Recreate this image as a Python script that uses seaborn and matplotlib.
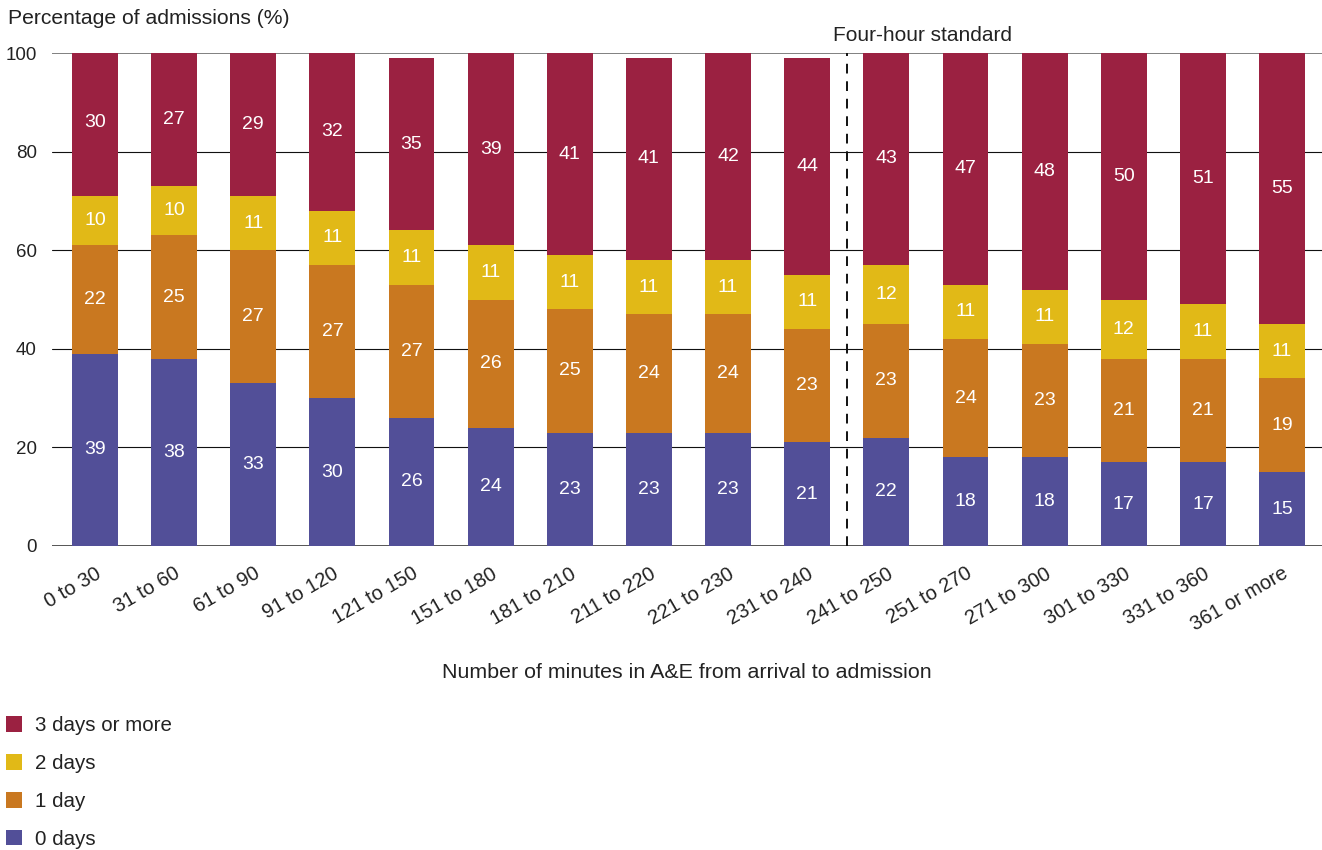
import matplotlib
matplotlib.use("Agg")
import matplotlib.pyplot as plt
from matplotlib.patches import Patch
import numpy as np
import pandas as pd
import seaborn as sns

# Minutes spent in A&E from arrival to admission
categories = ["0 to 30", "31 to 60", "61 to 90", "91 to 120", "121 to 150",
              "151 to 180", "181 to 210", "211 to 220", "221 to 230", "231 to 240",
              "241 to 250", "251 to 270", "271 to 300", "301 to 330", "331 to 360",
              "361 or more"]

# Length of stay shares (% of admissions)
days_0 = [39, 38, 33, 30, 26, 24, 23, 23, 23, 21, 22, 18, 18, 17, 17, 15]
days_1 = [22, 25, 27, 27, 27, 26, 25, 24, 24, 23, 23, 24, 23, 21, 21, 19]
days_2 = [10, 10, 11, 11, 11, 11, 11, 11, 11, 11, 12, 11, 11, 12, 11, 11]
days_3plus = [30, 27, 29, 32, 35, 39, 41, 41, 42, 44, 43, 47, 48, 50, 51, 55]

series_names = ["0 days", "1 day", "2 days", "3 days or more"]
series_values = [days_0, days_1, days_2, days_3plus]
series_colors = ["#524F98", "#C97820", "#E1B917", "#9B2141"]

y_ticks = [0, 20, 40, 60, 80, 100]
standard_label = "Four-hour standard"
x_title = "Number of minutes in A&E from arrival to admission"
y_title = "Percentage of admissions (%)"

sns.set_theme(style="white")
plt.rcParams["font.family"] = ["Liberation Sans", "DejaVu Sans"]
text_color = "#222222"

fig = plt.figure(figsize=(13.22, 8.5), dpi=100)
ax = fig.add_axes([52 / 1322, 1 - 546 / 850, 1 - 52 / 1322, (546 - 53) / 850])

# Horizontal reference lines behind the bars
for t in y_ticks:
    if t == 100:
        ax.axhline(t, color="#808080", lw=1.4, zorder=0)
    elif t == 0:
        ax.axhline(t, color="#555555", lw=1.4, zorder=0)
    else:
        ax.axhline(t, color="#111111", lw=0.8, zorder=0)

data = pd.DataFrame({name: vals for name, vals in zip(series_names, series_values)})
data["category"] = categories
cumulative = data[series_names].cumsum(axis=1)

# Stack by layering cumulative totals, tallest first
for name, color in reversed(list(zip(series_names, series_colors))):
    sns.barplot(x=categories, y=cumulative[name].values, color=color,
                width=0.58, saturation=1, ax=ax, zorder=2, order=categories,
                linewidth=0, edgecolor="none")

# Segment value labels
bottoms = np.zeros(len(categories))
for name in series_names:
    vals = np.array(data[name].values, dtype=float)
    for i, (b, v) in enumerate(zip(bottoms, vals)):
        ax.text(i, b + v / 2, f"{int(v)}", ha="center", va="center",
                color="white", fontsize=14, zorder=5)
    bottoms += vals

# Four-hour standard marker
ax.plot([9.5, 9.5], [0, 100], color="#111111", lw=1.4,
        dashes=(5, 4), zorder=3)
ax.text(9.33, 103.6, standard_label, ha="left", va="center",
        fontsize=15, color=text_color, clip_on=False)

ax.set_xlim(-0.543, 15.505)
ax.set_ylim(0, 100)
ax.set_yticks(y_ticks)
ax.set_yticklabels([str(t) for t in y_ticks], fontsize=13.5, color=text_color)
ax.set_xticks(range(len(categories)))
ax.set_xticklabels(categories, rotation=30, ha="right", rotation_mode="anchor",
                   fontsize=14.5, color=text_color)
ax.tick_params(axis="y", length=0, pad=11)
ax.tick_params(axis="x", length=0, pad=13)
for s in ax.spines.values():
    s.set_visible(False)
ax.set_xlabel("")
ax.set_ylabel("")

fig.text(8 / 1322, 1 - 18 / 850, y_title, ha="left", va="center",
         fontsize=15.2, color=text_color)
fig.text(687 / 1322, 1 - 672 / 850, x_title, ha="center", va="center",
         fontsize=15.4, color=text_color)

handles = [Patch(facecolor=c, edgecolor="none", label=n)
           for n, c in reversed(list(zip(series_names, series_colors)))]
fig.legend(handles=handles, loc="upper left",
           bbox_to_anchor=(6 / 1322, 1 - 716 / 850), frameon=False,
           fontsize=14.8, handlelength=0.8, handleheight=0.8,
           handletextpad=0.6, labelspacing=0.92, borderpad=0,
           borderaxespad=0, labelcolor=text_color)

fig.savefig("out.png", dpi=100)
